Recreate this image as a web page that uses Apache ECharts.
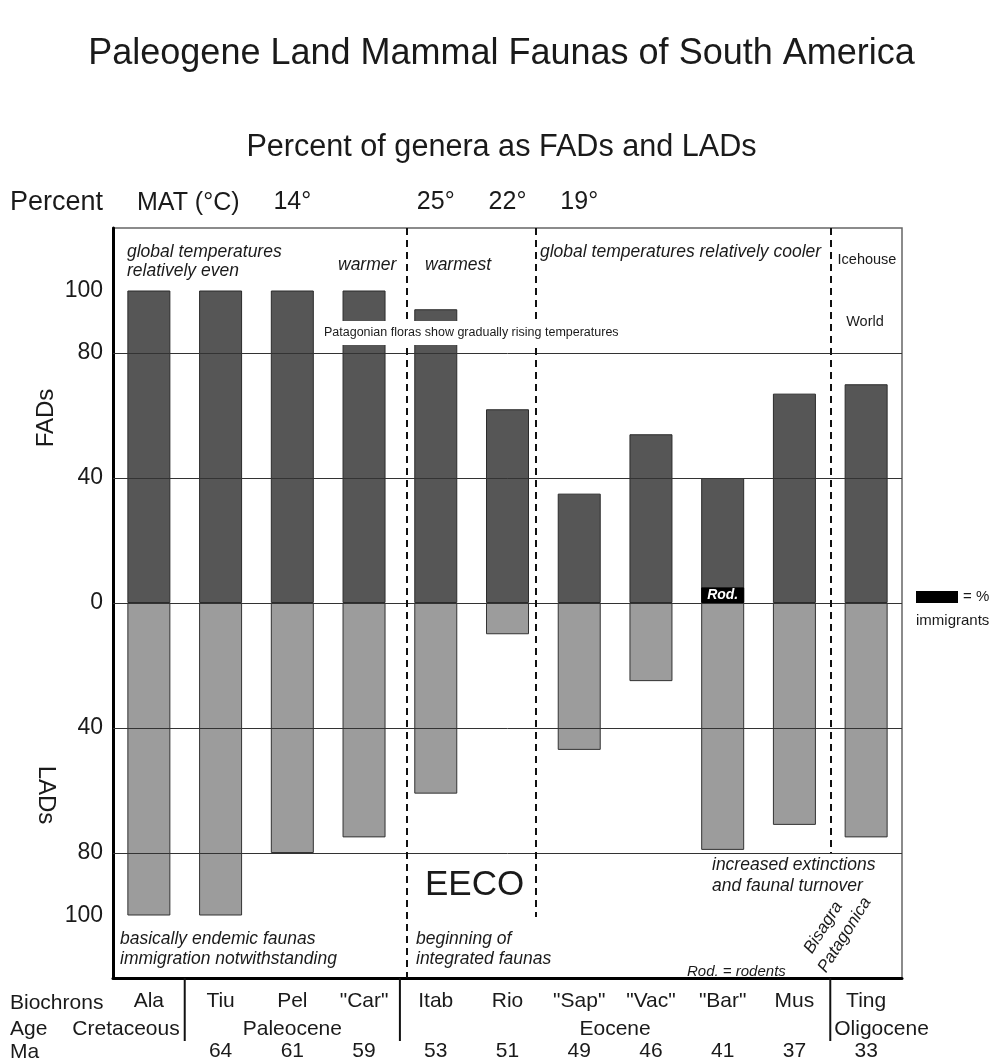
<!DOCTYPE html>
<html>
<head>
<meta charset="utf-8">
<title>Paleogene Land Mammal Faunas of South America</title>
<script src="https://cdn.jsdelivr.net/npm/echarts@6/dist/echarts.min.js"></script>
<style>
  html, body { margin: 0; padding: 0; background: #ffffff; }
  #chart { width: 1003px; height: 1064px; }
</style>
</head>
<body>
<div id="chart"></div>
<script>
// ---- data -------------------------------------------------------------
const biochrons = ['Ala', 'Tiu', 'Pel', '"Car"', 'Itab', 'Rio', '"Sap"', '"Vac"', '"Bar"', 'Mus', 'Ting'];
const maValues = ['', '64', '61', '59', '53', '51', '49', '46', '41', '37', '33'];
const matTemps = ['', '', '14°', '', '25°', '22°', '19°', '', '', '', ''];
const fadPercent = [100, 100, 100, 100, 94, 62, 35, 54, 40, 67, 70];
const ladPercent = [100, 100, 80, 75, 61, 10, 47, 25, 79, 71, 75];
const immigrantPercent = [0, 0, 0, 0, 0, 0, 0, 0, 5, 0, 0];
const immigrantLabels = ['', '', '', '', '', '', '', '', 'Rod.', '', ''];
const gridLevels = [80, 40, 0, -40, -80];
const percentTickLabels = [100, 80, 40, 0];
// climate boundaries, in category units (0 = left edge of Ala), with their lower end in percent
const climateBoundaries = [
  { at: 4.1, to: -120 },
  { at: 5.9, to: -100.5 },
  { at: 10.0, to: -80 }
];
// epoch boundaries below the axis, in category units
const epochBoundaries = [1, 4, 10];

// ---- chart ------------------------------------------------------------
const FONT = '"Liberation Sans", Arial, Helvetica, sans-serif';
const INK = '#1a1a1a';
const chart = echarts.init(document.getElementById('chart'), null, { renderer: 'canvas' });

const dashed = { color: '#111', width: 2, type: [7, 5] };
const markData = gridLevels.map(v => ({ yAxis: v, lineStyle: { color: '#333', width: 1, type: 'solid' } }))
  .concat(climateBoundaries.map(b => [
    { coord: [b.at, 120], lineStyle: dashed },
    { coord: [b.at, b.to], lineStyle: dashed }
  ]));

chart.setOption({
  animation: false,
  backgroundColor: '#ffffff',
  textStyle: { fontFamily: FONT },
  title: [
    { text: 'Paleogene Land Mammal Faunas of South America', left: 'center', top: 31,
      textStyle: { fontSize: 36, fontWeight: 'normal', color: INK, fontFamily: FONT } },
    { text: 'Percent of genera as FADs and LADs', left: 'center', top: 127,
      textStyle: { fontSize: 30.6, fontWeight: 'normal', color: INK, fontFamily: FONT } }
  ],
  grid: { left: 113, right: 101, top: 228, bottom: 82, show: true,
          borderColor: '#666', borderWidth: 1.5, backgroundColor: 'transparent' },
  xAxis: [
    { type: 'category', data: biochrons, position: 'bottom',
      axisLine: { show: true, onZero: false, lineStyle: { color: '#000', width: 3 } },
      axisTick: { show: false }, splitLine: { show: false },
      axisLabel: { interval: 0, margin: 11, fontSize: 21, lineHeight: 25, color: INK, fontFamily: FONT,
                   formatter: (v, i) => v + '\n \n' + (maValues[i] || ' ') } },
    { type: 'value', min: 0, max: 11, show: false },
    { type: 'category', data: biochrons, position: 'top',
      axisLine: { show: false, onZero: false }, axisTick: { show: false }, splitLine: { show: false },
      axisLabel: { interval: 0, margin: 13, fontSize: 25, color: INK, fontFamily: FONT,
                   formatter: (v, i) => matTemps[i] } }
  ],
  yAxis: {
    type: 'value', min: -120, max: 120, interval: 20,
    axisLine: { show: true, onZero: false, lineStyle: { color: '#000', width: 3 } },
    axisTick: { show: false }, splitLine: { show: false },
    axisLabel: { margin: 10, fontSize: 23, color: INK, fontFamily: FONT,
                 formatter: v => percentTickLabels.includes(Math.abs(v)) ? String(Math.abs(v)) : '' }
  },
  series: [
    { type: 'line', xAxisIndex: 1, data: [], z: 1, silent: true,
      markLine: { silent: true, symbol: ['none', 'none'], label: { show: false }, animation: false, data: markData } },
    { type: 'bar', name: 'FADs', data: fadPercent, barWidth: 43, barGap: '-100%', z: 3,
      itemStyle: { color: '#565656', borderColor: '#2b2b2b', borderWidth: 1 } },
    { type: 'bar', name: 'LADs', data: ladPercent.map(v => -v), barWidth: 43, barGap: '-100%', z: 3,
      itemStyle: { color: '#9c9c9c', borderColor: '#333', borderWidth: 1 } },
    { type: 'bar', name: '% immigrants', data: immigrantPercent.map(v => v || '-'), barWidth: 43, barGap: '-100%', z: 4,
      itemStyle: { color: '#000', borderColor: '#000', borderWidth: 1 },
      label: { show: true, position: 'inside', color: '#fff', fontStyle: 'italic', fontWeight: 'bold',
               fontSize: 14, fontFamily: FONT, formatter: p => immigrantLabels[p.dataIndex] } }
  ]
});

// ---- annotations --------------------------------------------------------
function note(x, y, text, size, opts) {
  opts = opts || {};
  const style = {
    text: text, x: 0, y: 0, fill: INK,
    font: (opts.italic ? 'italic ' : '') + (opts.bold ? 'bold ' : '') + size + 'px ' + FONT,
    align: opts.align || 'left', textAlign: opts.align || 'left',
    verticalAlign: 'middle', textVerticalAlign: 'middle',
    lineHeight: opts.lineHeight || Math.round(size * 1.15)
  };
  if (opts.background) { style.backgroundColor = opts.background; style.padding = opts.padding || [4, 2]; }
  return { type: 'text', x: x, y: y, rotation: opts.rotation || 0, z: 100, silent: true, style: style };
}

const px = v => chart.convertToPixel({ xAxisIndex: 1 }, v);
const yPx = v => chart.convertToPixel({ yAxisIndex: 0 }, v);
const axisBottom = yPx(-120);

const graphics = [
  note(10, 203, 'Percent', 27),
  note(137, 203, 'MAT (°C)', 25),
  note(46, 418, 'FADs', 24, { align: 'center', rotation: Math.PI / 2 }),
  note(46, 795, 'LADs', 24, { align: 'center', rotation: -Math.PI / 2 }),

  note(127, 262, 'global temperatures\nrelatively even', 17.5, { italic: true, lineHeight: 19 }),
  note(338, 265, 'warmer', 17.5, { italic: true }),
  note(425, 265, 'warmest', 17.5, { italic: true }),
  note(540, 252, 'global temperatures relatively cooler', 17.5, { italic: true }),
  note(867, 260, 'Icehouse', 14.5, { align: 'center' }),
  note(865, 322, 'World', 14.5, { align: 'center' }),
  note(322, 333, 'Patagonian floras show gradually rising temperatures', 12.5,
       { background: '#ffffff', padding: [5, 2] }),

  note(425, 885, 'EECO', 35),
  note(120, 949, 'basically endemic faunas\nimmigration notwithstanding', 17.5, { italic: true, lineHeight: 20 }),
  note(416, 949, 'beginning of\nintegrated faunas', 17.5, { italic: true, lineHeight: 20 }),
  note(712, 876, 'increased extinctions\nand faunal turnover', 17.5, { italic: true, lineHeight: 21 }),
  note(687, 972, 'Rod. = rodents', 15, { italic: true }),
  note(808, 952, 'Bisagra', 17, { italic: true, rotation: 1.01 }),
  note(822, 971, 'Patagonica', 17, { italic: true, rotation: 1.01 }),

  { type: 'rect', z: 100, silent: true, shape: { x: 916, y: 591, width: 42, height: 12 }, style: { fill: '#000' } },
  note(963, 597, '= %', 15),
  note(916, 621, 'immigrants', 15),

  note(10, 1003, 'Biochrons', 21),
  note(10, 1029, 'Age', 21),
  note(10, 1052, 'Ma', 21),
  note(px(epochBoundaries[0]) - 5, 1029, 'Cretaceous', 21, { align: 'right' }),
  note(px(2.5), 1029, 'Paleocene', 21, { align: 'center' }),
  note(px(7.0), 1029, 'Eocene', 21, { align: 'center' }),
  note(px(epochBoundaries[2]) + 4, 1029, 'Oligocene', 21)
];

epochBoundaries.forEach(b => {
  graphics.push({ type: 'line', z: 100, silent: true,
    shape: { x1: px(b), y1: axisBottom, x2: px(b), y2: axisBottom + 63 },
    style: { stroke: '#111', lineWidth: 2 } });
});

chart.setOption({ graphic: graphics });
</script>
</body>
</html>
